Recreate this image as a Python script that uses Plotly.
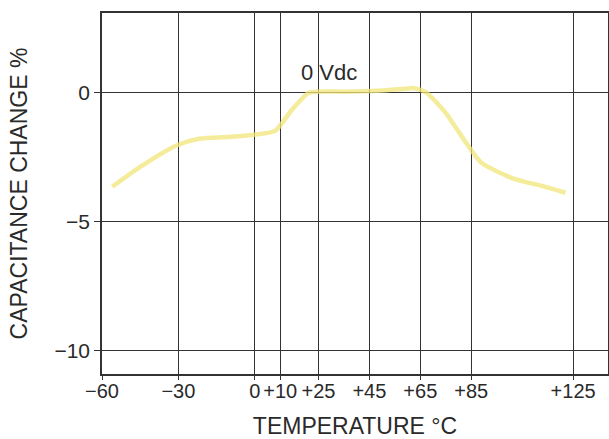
import plotly.graph_objects as go

# Data
temperature = [-56, -45, -31, -22, -9, -1, 8, 14.5, 21, 25, 35, 48, 58, 62, 67, 75, 83, 89, 101, 114, 122]
cap_change = [-3.64, -2.87, -2.05, -1.78, -1.70, -1.63, -1.47, -0.66, 0.0, 0.05, 0.05, 0.08, 0.15, 0.19, 0.04, -0.78, -1.94, -2.71, -3.3, -3.64, -3.87]

x_ticks = [-60, -30, 0, 10, 25, 45, 65, 85, 125]
x_tick_labels = ["\u221260", "\u221230", "0", "+10", "+25", "+45", "+65", "+85", "+125"]
y_ticks = [0, -5, -10]
y_tick_labels = ["0", "\u22125", "\u221210"]

FONT = "Liberation Sans, Arial, sans-serif"
INK = "#2a2a2a"
GRID = "#333333"

fig = go.Figure()
fig.add_trace(go.Scatter(
    x=temperature, y=cap_change, mode="lines",
    line=dict(color="rgba(240,230,120,0.75)", width=4.5, shape="spline", smoothing=0.6),
    hoverinfo="skip", showlegend=False,
))

fig.add_annotation(x=29, y=0.81, text="0 Vdc", showarrow=False,
                   font=dict(family=FONT, size=22, color=INK))

fig.update_xaxes(
    range=[-60, 138.7], tickmode="array", tickvals=x_ticks, ticktext=x_tick_labels,
    tickangle=0, automargin=False, ticklabelstandoff=-6,
    showgrid=True, gridcolor=GRID, gridwidth=1, zeroline=False,
    showline=True, linecolor=GRID, linewidth=1.5, mirror=True,
    ticks="outside", ticklen=4, tickcolor=GRID,
    tickfont=dict(family=FONT, size=20, color=INK),
    title=dict(text="TEMPERATURE \u00b0C", font=dict(family=FONT, size=23, color=INK), standoff=19),
)
fig.update_yaxes(
    range=[-10.9, 3.1], tickmode="array", tickvals=y_ticks, ticktext=y_tick_labels,
    automargin=False,
    showgrid=True, gridcolor=GRID, gridwidth=1, zeroline=False,
    showline=True, linecolor=GRID, linewidth=1.5, mirror=True,
    ticks="outside", ticklen=6, tickcolor=GRID,
    tickfont=dict(family=FONT, size=21, color=INK),
    title=dict(text="CAPACITANCE CHANGE %", font=dict(family=FONT, size=23, color=INK), standoff=20),
)

fig.update_layout(
    width=609, height=439,
    margin=dict(l=102, r=1, t=13, b=65),
    paper_bgcolor="white", plot_bgcolor="white",
)

fig.write_html("out.html")
